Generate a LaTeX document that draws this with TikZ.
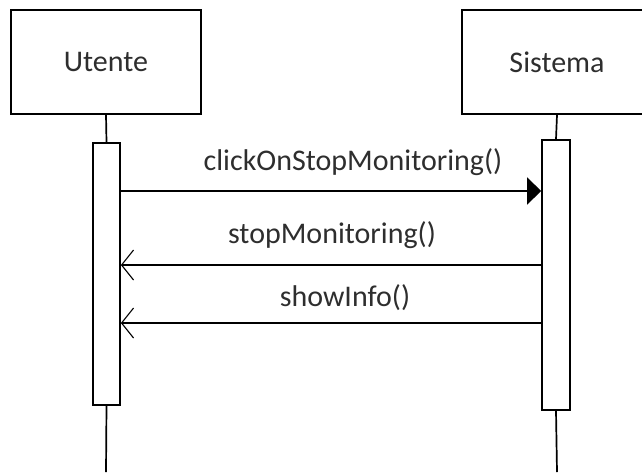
\documentclass[tikz,border=0pt]{standalone}
\usepackage{fontspec}
\setmainfont{Carlito}
\usetikzlibrary{arrows.meta}
\definecolor{inkgray}{rgb}{0.18,0.18,0.18}
\begin{document}
\begin{tikzpicture}[x=1pt,y=-1pt,
  line width=1.7pt,
  actor/.style={draw, minimum width=190pt, minimum height=104pt, inner sep=0pt,
    font=\fontsize{30}{34}\selectfont, text=inkgray},
  activation/.style={draw, fill=white, inner sep=0pt},
  label/.style={font=\fontsize{30}{34}\selectfont, text=inkgray, inner sep=0pt},
  call/.style={-{Triangle[length=14pt,width=27pt]}},
  reply/.style={-{Straight Barb[length=12pt,width=30pt,line width=1.1pt]}}]
\useasboundingbox (0,0) rectangle (642,472);

% participants
\node[actor] (u) at (106,62) {Utente};
\node[actor] (s) at (557,62) {Sistema};

% lifeline ends
\coordinate (uend) at (106,472);
\coordinate (send) at (557,472);

% activation bars
\node[activation, minimum width=27pt, minimum height=262pt] (ua) at (106.5,274) {};
\node[activation, minimum width=28pt, minimum height=270pt] (sa) at (556,275) {};

% lifelines
\draw (u.south) -- (ua.north);
\draw (ua.south) -- (uend);
\draw (s.south) -- (sa.north);
\draw (sa.south) -- (send);

% message heights
\coordinate (m1) at (0,191);
\coordinate (m2) at (0,265);
\coordinate (m3) at (0,323);

% messages
\draw[call] (ua.east |- m1) -- (sa.west |- m1);
\draw[reply] (sa.west |- m2) -- (ua.east |- m2);
\draw[reply] (sa.west |- m3) -- (ua.east |- m3);

% message labels
\node[label] (l1) at (353,162) {clickOnStopMonitoring()};
\node[label] (l2) at (332,235) {stopMonitoring()};
\node[label] (l3) at (345,298) {showInfo()};
\end{tikzpicture}
\end{document}
